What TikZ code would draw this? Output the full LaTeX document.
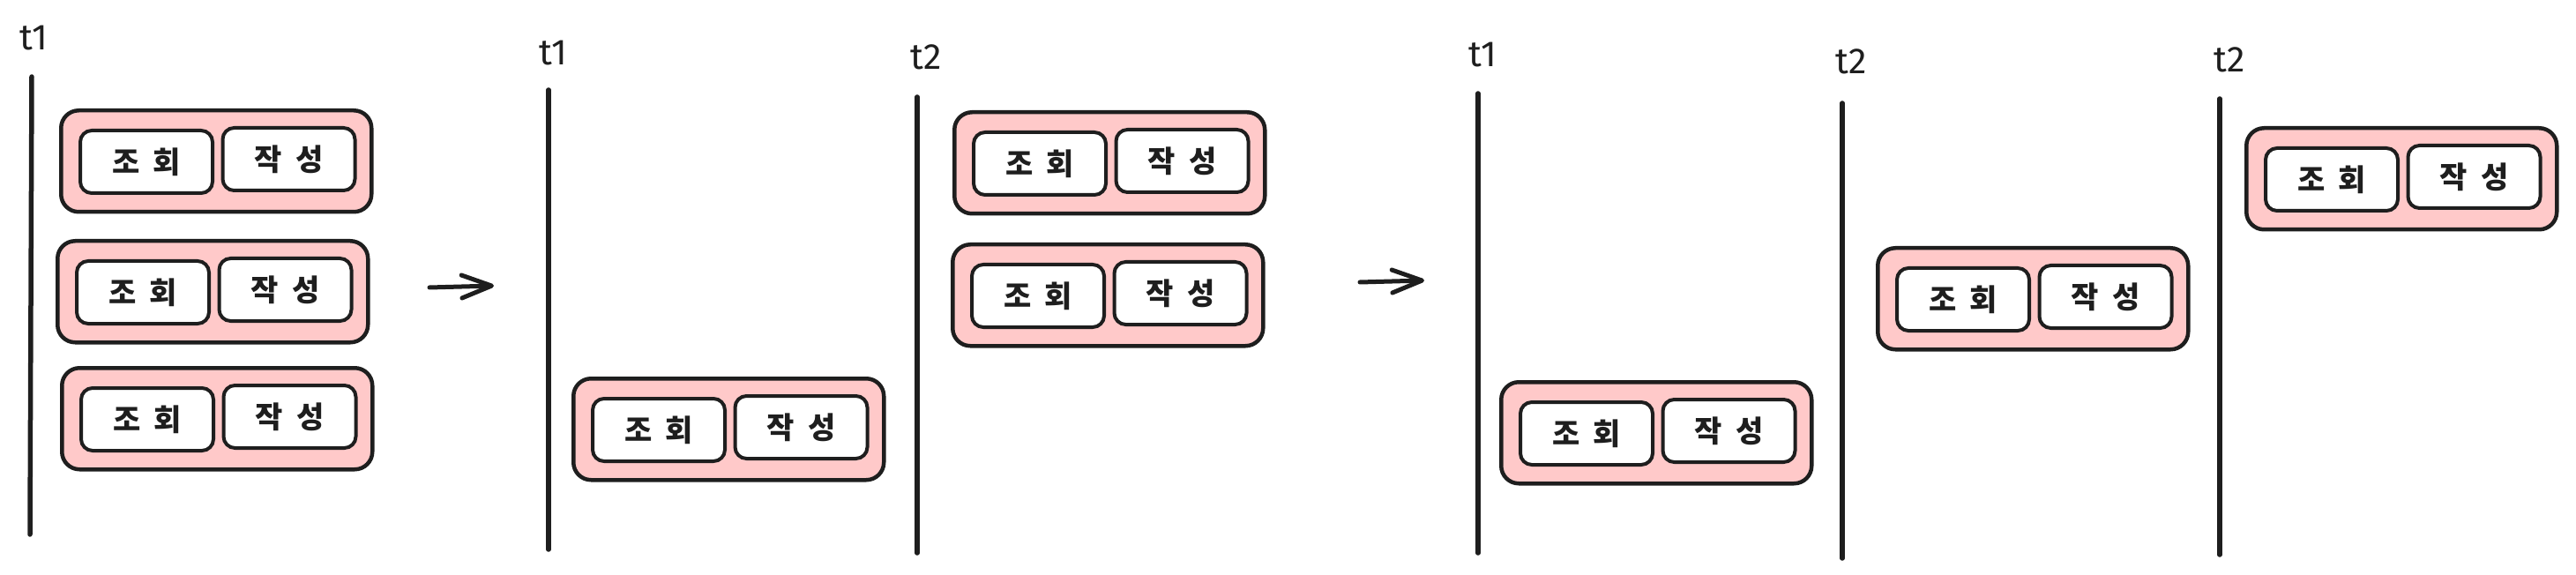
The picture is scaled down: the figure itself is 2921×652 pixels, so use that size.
\documentclass[tikz,border=0pt]{standalone}
\usepackage{fontspec}
\setmainfont{Fira Sans}
\newfontfamily\krfont{Noto Sans CJK KR}
\usetikzlibrary{arrows.meta}
\definecolor{ink}{HTML}{1E1E1E}
\definecolor{pinkfill}{HTML}{FFC9C9}
\tikzset{
  outerbox/.style={draw=ink, fill=pinkfill, line width=4.5pt, rounded corners=20pt,
    minimum width=352pt, minimum height=115pt, inner sep=0pt, anchor=north west},
  innerbox/.style={draw=ink, fill=white, line width=4pt, rounded corners=13pt,
    minimum width=150pt, minimum height=71pt, inner sep=0pt,
    font=\krfont\fontsize{34}{36}\selectfont\bfseries, text=ink},
  tline/.style={draw=ink, line width=5.5pt, line cap=round},
  tlabel/.style={font=\fontsize{41}{44}\selectfont, text=ink, inner sep=0pt},
  flow/.style={draw=ink, line width=5pt, line cap=round,
    -{Straight Barb[length=34pt, width=26pt, line width=5pt, round]}}
}
\newcommand{\pairbox}[3]{%
  \node[outerbox] (#1) at (#2,#3) {};
  \node[innerbox] (#1l) at ([shift={(99,60.5)}]#1.north west) {조\kern.45em 회};
  \node[innerbox] (#1r) at ([shift={(260.5,57.5)}]#1.north west) {작\kern.45em 성};
}
\begin{document}
\begin{tikzpicture}[x=1pt, y=-1pt]
\useasboundingbox (0,0) rectangle (2921,652);
% timeline 1
\node[tlabel] (lab1) at (38,43) {t1};
\coordinate (l1t) at (36,87); \coordinate (l1b) at (34,606);
\draw[tline] (l1t) -- (l1b);
\pairbox{p1a}{67}{123}
\pairbox{p1b}{63}{271}
\pairbox{p1c}{68}{415}
% arrow 1
\coordinate (a1s) at (487,326); \coordinate (a1e) at (560,324);
\draw[flow] (a1s) -- (a1e);
% panel 2
\node[tlabel] (lab2) at (627,60) {t1};
\coordinate (l2t) at (622,102); \coordinate (l2b) at (622,623);
\draw[tline] (l2t) -- (l2b);
\pairbox{p2a}{648}{427}
\node[tlabel] (lab3) at (1050,65) {t2};
\coordinate (l3t) at (1040,110); \coordinate (l3b) at (1040,627);
\draw[tline] (l3t) -- (l3b);
\pairbox{p2b}{1080}{125}
\pairbox{p2c}{1078}{275}
% arrow 2
\coordinate (a2s) at (1542,320); \coordinate (a2e) at (1615,318);
\draw[flow] (a2s) -- (a2e);
% panel 3
\node[tlabel] (lab4) at (1681,62) {t1};
\coordinate (l4t) at (1676,106); \coordinate (l4b) at (1676,627);
\draw[tline] (l4t) -- (l4b);
\pairbox{p3a}{1700}{431}
\node[tlabel] (lab5) at (2099,70) {t2};
\coordinate (l5t) at (2089,117); \coordinate (l5b) at (2089,633);
\draw[tline] (l5t) -- (l5b);
\pairbox{p3b}{2127}{279}
\node[tlabel] (lab6) at (2528,68) {t2};
\coordinate (l6t) at (2517,112); \coordinate (l6b) at (2517,629);
\draw[tline] (l6t) -- (l6b);
\pairbox{p3c}{2545}{143}
\end{tikzpicture}
\end{document}
